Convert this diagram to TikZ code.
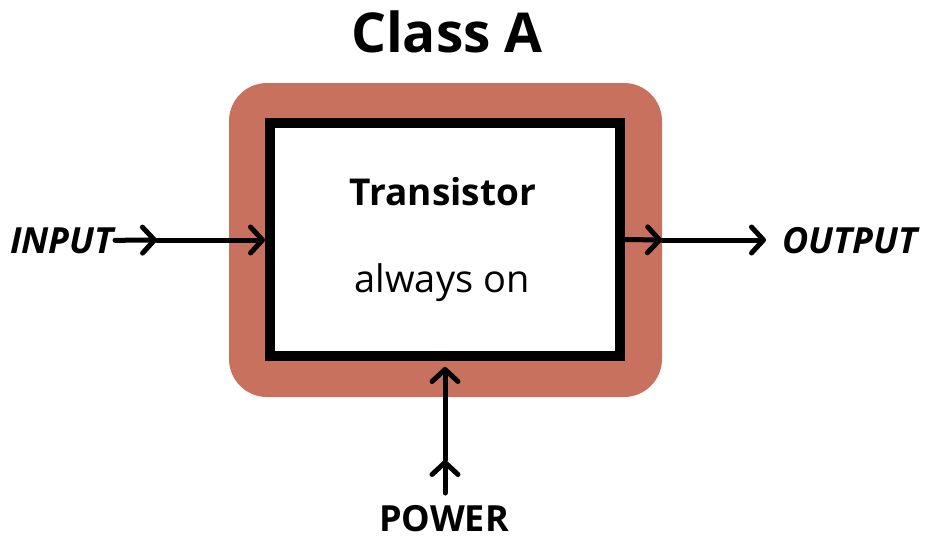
\documentclass[tikz,border=0pt]{standalone}
\usepackage{fontspec}
\setmainfont{Open Sans}
\usetikzlibrary{arrows.meta,positioning}

\definecolor{shieldred}{RGB}{200,113,95}

\begin{document}
\begin{tikzpicture}[
    x = 1pt, y = -1pt, % pixel like units, y pointing down
    flow/.style = {-{Straight Barb[length=12pt,width=26pt,round]}, line width=5pt, line cap=round}, % arrow style
    lbl/.style = {inner sep=1pt, font=\bfseries\itshape\fontsize{36}{36}\selectfont}
    ]

    \useasboundingbox (0,0) rectangle (928,541);

    \tikzset{chip/.style={
    draw = black,
    line width = 10pt,
    fill = white,
    minimum width = 350pt,
    minimum height = 233pt
    }}

    \node[fill=shieldred, rounded corners=38pt, minimum width=433pt, minimum height=314pt] (shield) at (445.5,240) {};
    \node[chip] (box) at (445,239.5) {};

    \node[anchor=base, font=\bfseries\fontsize{55}{55}\selectfont] (title) at (447,52) {Class A};
    \node[anchor=base, font=\bfseries\fontsize{37}{37}\selectfont] (name) at (443,205) {Transistor};
    \node[anchor=base, font=\fontsize{38}{38}\selectfont] (state) at (442,292) {always on};

    \node[lbl, anchor=base west] (input) at (9,253) {INPUT};
    \node[lbl, anchor=base west] (output) at (781,253) {OUTPUT};
    \node[anchor=base, inner sep=1pt, font=\bfseries\fontsize{36}{36}\selectfont] (power) at (444,531) {POWER};

    \coordinate (inmid) at (157,240);
    \coordinate (outmid) at (662,240);
    \coordinate (pwrfoot) at (445,493);
    \coordinate (pwrmid) at (445,460);

    \draw[flow] (input.east) -- (inmid);
    \draw[flow] (inmid) -- (inmid -| box.west);
    \draw[flow] (box.east) -- (outmid);
    \draw[flow, shorten >=15pt] (outmid) -- (outmid -| output.west);
    \draw[flow] (pwrfoot) -- (pwrmid);
    \draw[flow, shorten >=6pt] (pwrmid) -- (pwrmid |- box.south);
\end{tikzpicture}
\end{document}
